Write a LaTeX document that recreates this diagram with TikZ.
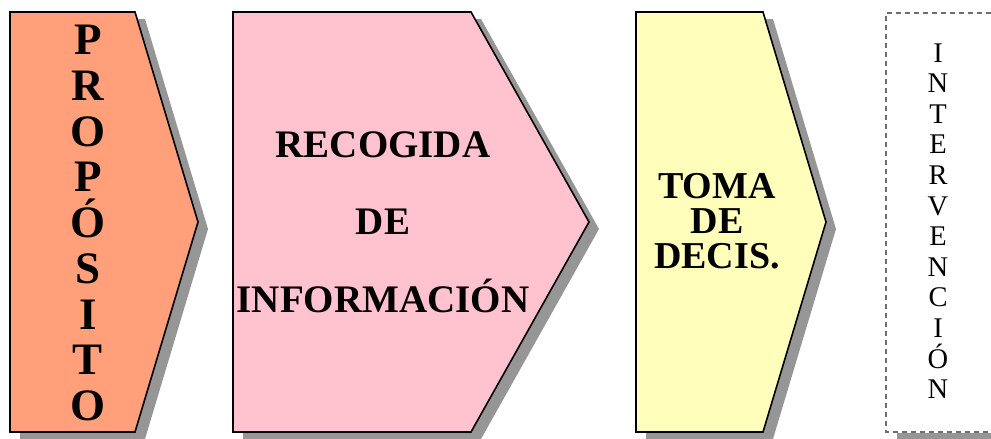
\documentclass[tikz,border=0pt]{standalone}
\usepackage{fontspec}
\setmainfont{Liberation Serif}
\usepackage{xcolor}
\usetikzlibrary{calc}
\definecolor{purpose}{RGB}{255,160,122}
\definecolor{gathering}{RGB}{255,194,206}
\definecolor{decision}{RGB}{255,255,187}
\definecolor{shadowgray}{RGB}{150,150,150}
\definecolor{dashgray}{RGB}{110,110,110}
\newcommand{\chevronstep}[5]{
  % #1 name, #2 left x, #3 corner x, #4 tip x, #5 fill
  \fill[stepshadow] (#2,12) -- (#3,12) -- (#4,222) -- (#3,432) -- (#2,432) -- cycle;
  \draw[stepframe,fill=#5] (#2,12) coordinate (#1-nw) -- (#3,12) -- (#4,222) coordinate (#1-tip) -- (#3,432) -- (#2,432) coordinate (#1-sw) -- cycle;
}
\tikzstyle{stepshadow}=[fill=shadowgray, shift={(10,7)}]
\tikzstyle{stepframe}=[draw=black, line width=1.6pt, line join=miter]
\tikzstyle{boldletters}=[align=center, inner sep=0pt, text=black]
\tikzset{y=-1pt}
\tikzset{x=1pt}

\begin{document}
\begin{tikzpicture}
  \useasboundingbox (0,0) rectangle (991,439);
  \clip (0,0) rectangle (991,439);

  %% Steps
  \chevronstep{P}{10}{135}{198}{purpose}
  \chevronstep{R}{233}{471}{589}{gathering}
  \chevronstep{D}{636}{763}{826}{decision}

  %% Last step, dashed
  \fill[shadowgray] (897,433) rectangle (1000,439);
  \draw[dashgray, line width=1.3pt, dash pattern=on 5pt off 4pt, fill=white] (1000,13) -- (886,13) coordinate (I-nw) -- (886,432) coordinate (I-sw) -- (1000,432);

  %% Labels
  \draw (88,223) node[boldletters, font=\fontsize{45}{45.75}\selectfont\bfseries] (Ptext) {P\\R\\O\\P\\Ó\\S\\I\\T\\O};
  \draw (383,222) node[boldletters, font=\fontsize{39}{77.5}\selectfont\bfseries] (Rtext) {RECOGIDA\\DE\\INFORMACIÓN};
  \draw (717,221) node[boldletters, font=\fontsize{38}{35}\selectfont\bfseries] (Dtext) {TOMA\\DE\\DECIS.};
  \draw (938,221) node[boldletters, font=\fontsize{28.5}{30.6}\selectfont] (Itext) {I\\N\\T\\E\\R\\V\\E\\N\\C\\I\\Ó\\N};
\end{tikzpicture}
\end{document}
